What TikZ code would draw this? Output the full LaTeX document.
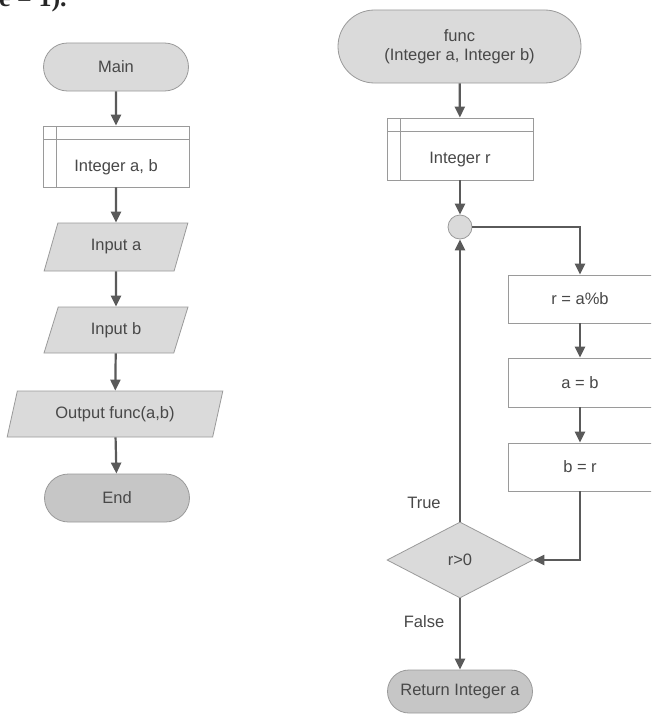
\documentclass[tikz,border=0pt]{standalone}
\usepackage{fontspec}
\setmainfont{Liberation Sans}
\newfontfamily\fragfont{Liberation Serif}
\usetikzlibrary{shapes.geometric,shapes.misc,arrows.meta}
\definecolor{linec}{HTML}{5A5A5A}
\definecolor{textc}{HTML}{484848}
\definecolor{lightf}{HTML}{DADADA}
\definecolor{darkf}{HTML}{C6C6C6}
\definecolor{bordc}{HTML}{9A9A9A}
\tikzset{
  base/.style={draw=bordc, line width=0.8pt, text=textc, font=\fontsize{16.5}{19}\selectfont, inner sep=0pt, align=center},
  term/.style={base, rounded rectangle, fill=lightf},
  termdark/.style={term, fill=darkf},
  io/.style={base, trapezium, trapezium left angle=68, trapezium right angle=112, trapezium stretches=true, fill=lightf},
  store/.style={base, rectangle, fill=white, path picture={
      \draw[bordc, line width=0.8pt] ([xshift=13pt]path picture bounding box.north west) -- ([xshift=13pt]path picture bounding box.south west);
      \draw[bordc, line width=0.8pt] ([yshift=-13pt]path picture bounding box.north west) -- ([yshift=-13pt]path picture bounding box.north east);}},
  proc/.style={base, rectangle, fill=white},
  decis/.style={base, diamond, fill=lightf},
  junc/.style={base, circle, fill=lightf, minimum size=24pt},
  flow/.style={draw=linec, line width=2.2pt, -{Triangle[length=11pt,width=10pt]}},
  lbl/.style={text=textc, font=\fontsize{16.5}{19}\selectfont, inner sep=0pt}
}
\begin{document}
\begin{tikzpicture}[x=1pt,y=-1pt]
\useasboundingbox (0,0) rectangle (651,717);
\fill[white] (0,0) rectangle (651,717);
\begin{scope}
\clip (0,0) rectangle (651,717);
\node[anchor=base west, inner sep=0pt, text=black!85, font=\fragfont\bfseries\fontsize{26}{30}\selectfont] (frag) at (-1,7) {e = 1).};
% left column
\node[term, minimum width=145pt, minimum height=48pt] (main) at (116,67) {Main};
\node[store, minimum width=146pt, minimum height=61pt] (intab) at (116,156.5) {\raisebox{-14.5pt}[0pt][0pt]{Integer a, b}};
\node[io, minimum width=144pt, minimum height=48pt] (ina) at (116,247) {Input a};
\node[io, minimum width=144pt, minimum height=46pt] (inb) at (116,330) {Input b};
\node[io, minimum width=216pt, minimum height=46pt] (out) at (115,414) {Output func(a,b)};
\node[termdark, minimum width=145pt, minimum height=48pt] (endn) at (117,498) {End};
\draw[flow] (main) -- (intab);
\draw[flow] (intab) -- (ina);
\draw[flow] (ina) -- (inb);
\draw[flow] (inb) -- (out);
\draw[flow] (out) -- (endn);
% right column
\node[term, minimum width=243pt, minimum height=73pt] (func) at (459.5,46.5) {func\\(Integer a, Integer b)};
\node[store, minimum width=146pt, minimum height=62pt] (intr) at (460,149) {\raisebox{-14pt}[0pt][0pt]{Integer r}};
\node[junc] (circ) at (460,227) {};
\node[proc, minimum width=144pt, minimum height=48pt] (rab) at (580,299) {r = a\%b};
\node[proc, minimum width=144pt, minimum height=49pt] (ab) at (580,382.5) {a = b};
\node[proc, minimum width=144pt, minimum height=48pt] (br) at (580,467) {b = r};
\node[decis, minimum width=146pt, minimum height=76pt] (dec) at (460,560) {r>0};
\node[termdark, minimum width=145pt, minimum height=43pt] (ret) at (460,691.5) {Return Integer a};
\node[lbl] (truel) at (424,503) {True};
\node[lbl] (falsel) at (424,622) {False};
\draw[flow] (func) -- (intr);
\draw[flow] (intr) -- (circ);
\draw[flow] (circ.east) -| (rab.north);
\draw[flow] (rab) -- (ab);
\draw[flow] (ab) -- (br);
\draw[flow] (br.south) |- (dec.east);
\draw[flow] (dec.north) -- (circ.south);
\draw[flow] (dec.south) -- (ret.north);
\end{scope}
\end{tikzpicture}
\end{document}
